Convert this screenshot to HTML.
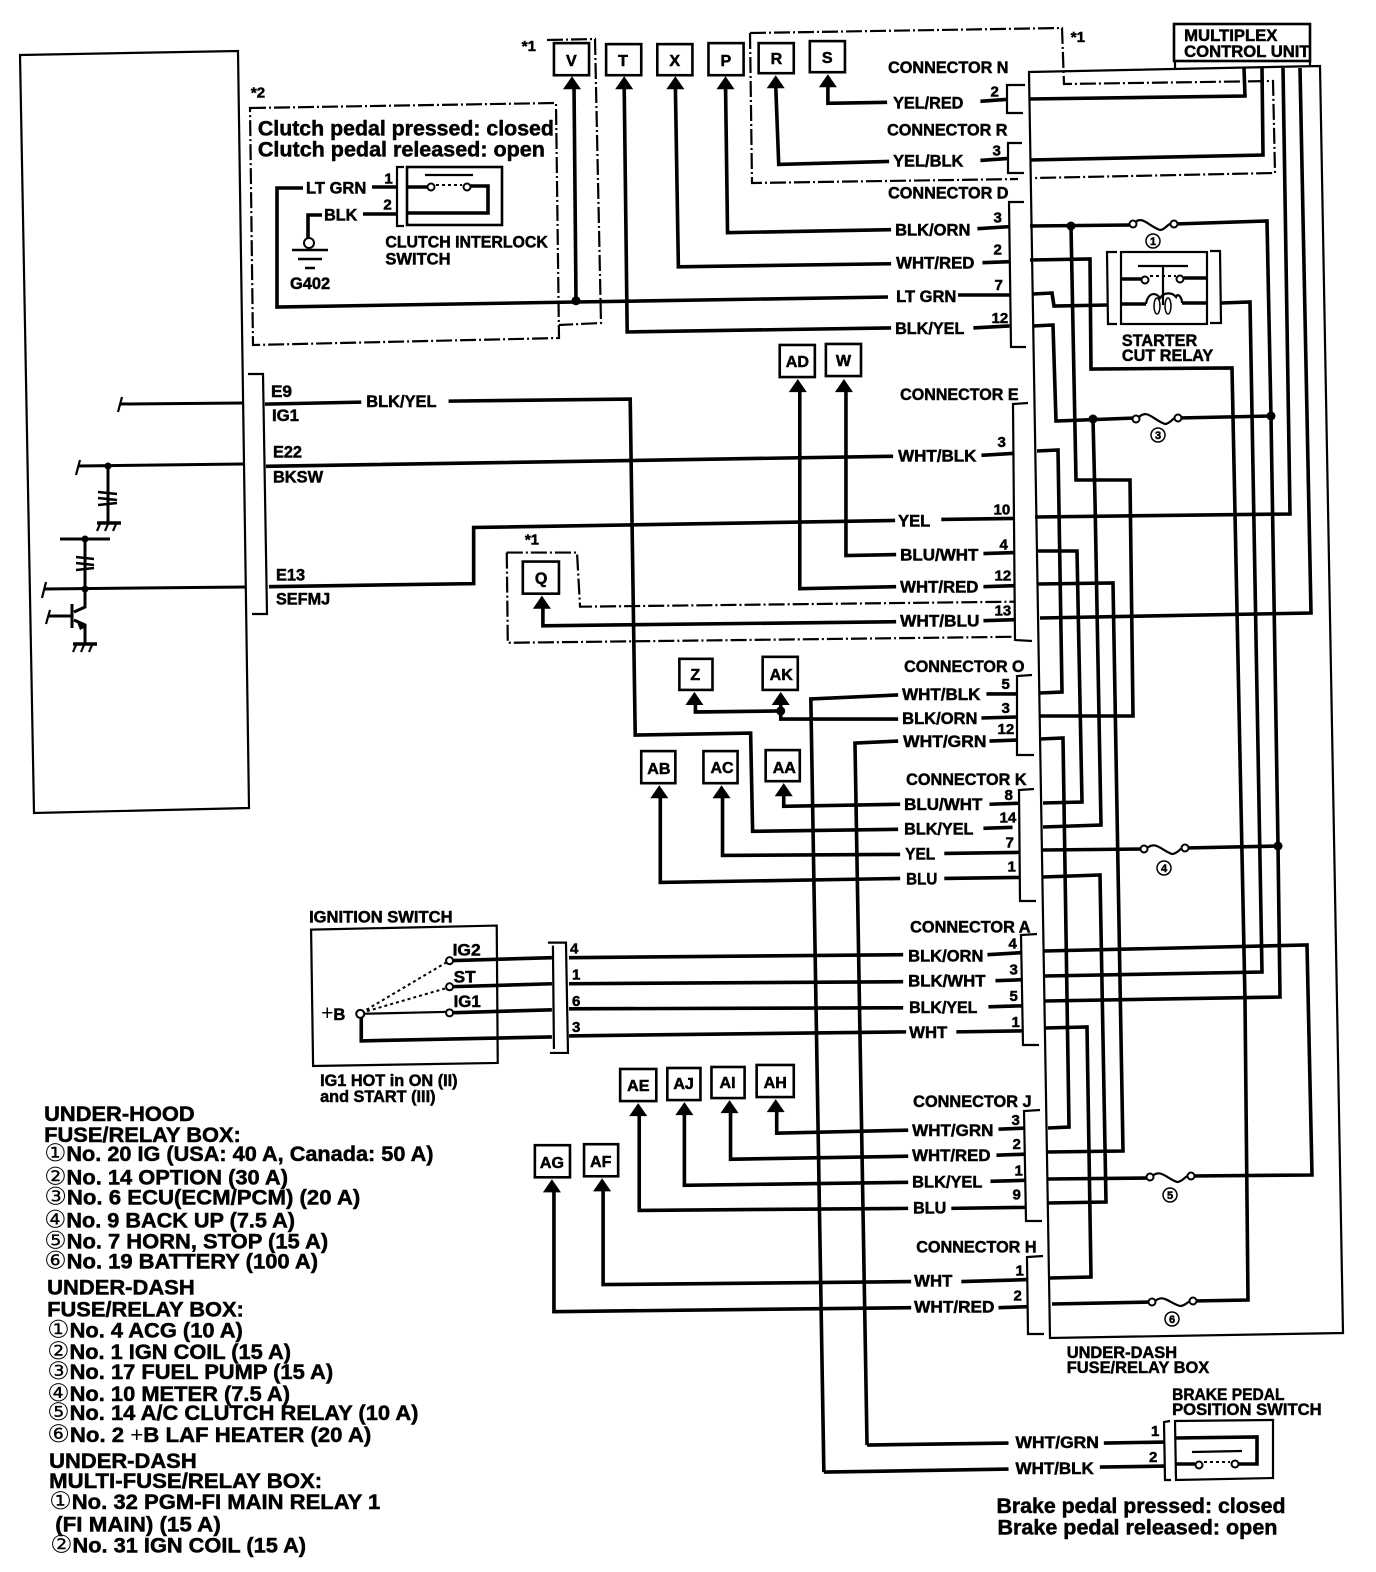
<!DOCTYPE html>
<html>
<head>
<meta charset="utf-8">
<style>
html,body{margin:0;padding:0;background:#fff}
svg{display:block}
text{font-family:"Liberation Sans","DejaVu Sans",sans-serif;font-weight:bold;fill:#000;stroke:#000;stroke-width:.5}
tspan.c{font-family:"DejaVu Sans",sans-serif;font-weight:normal;stroke:none;font-size:24px}
tspan.p{font-weight:normal;stroke:none}
.w{fill:none;stroke:#000;stroke-width:3.6;stroke-linejoin:miter}
.b{fill:none;stroke:#000;stroke-width:2.2}
.t{fill:none;stroke:#000;stroke-width:1.5}
.d{fill:none;stroke:#000;stroke-width:2.2;stroke-dasharray:16 3 2 3}
.dot{fill:none;stroke:#000;stroke-width:2;stroke-dasharray:3 3}
.o{fill:#fff;stroke:#000;stroke-width:2}
.tag{fill:#fff;stroke:#000;stroke-width:2.6}
.s16 text{font-size:16.5px}
.s15 text{font-size:15px}
.s21 text{font-size:21px}
.f{fill:none;stroke:#000;stroke-width:2.2}
</style>
</head>
<body>
<svg xmlns="http://www.w3.org/2000/svg" width="1376" height="1572" viewBox="0 0 1376 1572">
<rect width="1376" height="1572" fill="#fff"/>

<!-- ECU box -->
<path class="b" d="M20 55L238 51L249 808L34 813Z"/>
<path class="b" d="M248 374H263L267 614H252"/>

<!-- ECU internals -->
<path class="w" style="stroke-width:3" d="M120 404L243 403M78 466L243 464M108 466V522M60 539H110M85 539V607L74 612M44 589L246 587M48 616H72M72 604V628M74 620L85 625V645"/>
<path class="b" d="M122 397L118 412M80 460L76 475M46 582L42 598M50 610L46 624"/>
<path class="w" style="stroke-width:2.6" d="M98 492L117 494M98 498L117 500M98 505L117 503M76 557L94 559M76 563L94 565M76 570L94 568"/>
<path class="w" d="M97 523H121M73 644H97"/>
<path class="b" d="M100 524L97 531M108 524L105 531M116 524L113 531M76 645L73 652M84 645L81 652M92 645L89 652"/>
<circle cx="108" cy="466" r="3.5"/><circle cx="85" cy="539" r="3.5"/><circle cx="85" cy="589" r="3.5"/>
<path d="M77 622L86 627L80 630Z"/>

<!-- under-dash box -->
<path class="b" d="M1029 72L1320 66L1343 1333L1050 1338Z"/>
<!-- multiplex -->
<rect x="1174" y="24" width="136" height="37" fill="#fff" stroke="#000" stroke-width="2.6"/>
<path class="b" d="M1175 62V68M1310 60V66"/>

<!-- dashed (absolute) -->
<path class="d" d="M750 33L1062 28L1064 84L1273 81L1275 173L1034 178"/>
<path class="d" d="M750 33L752 183L1018 179"/>
<path class="d" d="M547 40L595 39L601 323L559 325"/>
<path class="d" d="M250 108L556 103L559 338L253 345Z"/>

<!-- connector brackets -->
<path class="b" d="M1025 85H1007V113H1023M1022 143H1008V173H1024M1024 202H1009L1011 347H1026M1028 403L1013 404L1015 640L1032 641M1032 675L1017 676V755H1034M1034 789L1019 790L1020 901H1036M1037 934L1021 935L1023 1045H1039M1040 1110L1024 1111L1026 1221H1042M1043 1256L1027 1257L1028 1334H1044"/>

<!-- wires inside box -->
<path class="w" d="M1029 99L1245 96L1244 68"/>
<path class="w" d="M1030 160L1263 155L1262 68"/>
<path class="w" d="M1283 68L1290 514L1035 517"/>
<path class="w" d="M1300 68L1311 613L1040 618"/>
<path class="w" d="M1030 226L1130 225M1175 224L1267 221L1271 417L1278 845L1280 997L1045 1001"/>
<path class="w" d="M1071 226L1076 480H1130L1133 716L1040 716"/>
<path class="w" d="M1030 260L1090 259L1091 369L1232 368L1245 1000L1248 1300L1193 1301"/>
<path class="w" d="M1033 294L1052 293L1054 306L1108 305M1221 303L1250 302L1262 972L1045 976"/>
<path class="w" d="M1033 326L1053 325L1056 421L1135 418M1178 418L1271 416"/>
<path class="w" d="M1093 419L1095 500L1101 825L1043 827"/>
<path class="w" d="M1037 451L1058 450L1062 692L1040 693"/>
<path class="w" d="M1038 551L1077 551L1082 802L1043 803"/>
<path class="w" d="M1038 584L1113 583L1123 1151L1048 1152"/>
<path class="w" d="M1040 739L1063 738L1069 1127L1048 1128"/>
<path class="w" d="M1043 850L1144 849M1185 848L1278 846"/>
<path class="w" d="M1043 877L1100 875L1106 1202L1048 1203"/>
<path class="w" d="M1044 951L1307 945L1312 1175L1190 1176M1150 1178L1048 1179"/>
<path class="w" d="M1045 1028L1087 1027L1091 1277L1050 1278"/>
<path class="w" d="M1052 1304L1152 1302"/>
<circle cx="1071" cy="226" r="4.5"/><circle cx="1093" cy="419" r="4.5"/><circle cx="1271" cy="416" r="4.5"/><circle cx="1278" cy="846" r="4.5"/>

<!-- fuses -->
<path class="f" d="M1133 224C1142 214 1148 226 1160 230C1166 230 1168 222 1173 224"/>
<circle class="o" cx="1133" cy="224" r="3.5"/><circle class="o" cx="1174" cy="224" r="3.5"/>
<path class="f" d="M1138 418C1147 408 1153 420 1165 424C1171 424 1173 416 1178 418"/>
<circle class="o" cx="1136" cy="419" r="3.5"/><circle class="o" cx="1178" cy="418" r="3.5"/>
<path class="f" d="M1146 849C1155 840 1161 850 1172 854C1178 854 1180 847 1185 848"/>
<circle class="o" cx="1144" cy="849" r="3.5"/><circle class="o" cx="1185" cy="848" r="3.5"/>
<path class="f" d="M1151 1177C1160 1168 1166 1178 1177 1182C1183 1182 1185 1175 1190 1176"/>
<circle class="o" cx="1150" cy="1177" r="3.5"/><circle class="o" cx="1191" cy="1176" r="3.5"/>
<path class="f" d="M1154 1302C1163 1293 1169 1303 1180 1306C1186 1306 1188 1300 1193 1301"/>
<circle class="o" cx="1152" cy="1302" r="3.5"/><circle class="o" cx="1193" cy="1301" r="3.5"/>
<circle class="t" cx="1153" cy="241" r="7"/><circle class="t" cx="1158" cy="435" r="7"/><circle class="t" cx="1164" cy="868" r="7"/><circle class="t" cx="1170" cy="1195" r="7"/><circle class="t" cx="1172" cy="1319" r="7"/>
<text x="1150" y="245" font-size="11">1</text><text x="1155" y="439" font-size="11">3</text><text x="1161" y="872" font-size="11">4</text><text x="1167" y="1199" font-size="11">5</text><text x="1169" y="1323" font-size="11">6</text>

<!-- starter cut relay -->
<path class="b" d="M1117 252H1107L1108 324H1117M1210 251H1220L1221 323H1210"/>
<rect x="1121" y="252" width="86" height="72" fill="none" stroke="#000" stroke-width="2.2"/>
<path class="b" d="M1138 266H1188M1163 266V305"/>
<path class="w" d="M1122 279H1142M1184 278H1206M1122 304H1146M1182 303H1206"/>
<path class="f" d="M1146 304C1148 292 1156 292 1160 298C1164 292 1172 292 1176 297C1178 292 1182 298 1182 303"/>
<ellipse class="t" cx="1157" cy="306" rx="3" ry="8"/><ellipse class="t" cx="1168" cy="306" rx="3" ry="8"/>
<circle class="o" cx="1145" cy="280" r="3.5"/><circle class="o" cx="1180" cy="279" r="3.5"/>
<path class="dot" d="M1150 276H1176"/>

<!-- clutch wires -->
<path class="w" d="M303 188H277V307L576 302L888 297M958 295L1010 295"/>
<path class="w" d="M322 215H308V238"/>
<path class="w" d="M372 187H398M363 214H398"/>
<circle class="o" cx="309" cy="243" r="5"/>
<path class="b" style="stroke-width:2.6" d="M292 250H328M298 259H322M305 268H315"/>
<path class="b" d="M404 167H397V226H404"/>
<rect x="407" y="167" width="95" height="58" fill="none" stroke="#000" stroke-width="2.6"/>
<path class="w" d="M407 187H427M470 186H488V213H407"/>
<path class="b" d="M425 175H473"/>
<path class="dot" d="M436 185H462"/>
<circle class="o" cx="431" cy="187" r="3.5"/><circle class="o" cx="467" cy="187" r="3.5"/>

<!-- brake switch -->
<path class="b" d="M1170 1421L1164 1422L1165 1480L1171 1480"/>
<path class="b" d="M1175 1421L1273 1420V1478L1176 1480Z"/>
<path class="w" d="M1175 1438L1257 1437V1464H1236M1176 1464H1195"/>
<path class="b" d="M1192 1452L1242 1451"/>
<path class="dot" d="M1204 1462H1230"/>
<circle class="o" cx="1199" cy="1465" r="3.5"/><circle class="o" cx="1235" cy="1464" r="3.5"/>

<!-- everything below was laid out in slightly reduced coordinates -->
<g transform="scale(1.0035 1.0028)">

<path class="d" d="M505 551H575L578 605L1012 600"/>
<path class="d" d="M505 551L506 641L1012 635"/>

<path class="w" d="M572 85L574 300"/>
<path class="w" d="M622 85L625 331L888 327M970 327L1006 325"/>
<path class="w" d="M673 85L676 266L888 263M979 262L1006 261"/>
<path class="w" d="M723 85L725 232L888 229M974 228L1006 226"/>
<path class="w" d="M773 85L776 164L886 161M977 160L1005 158"/>
<path class="w" d="M825 85V103L884 102M977 101L1004 99"/>
<circle cx="574" cy="300" r="4.5"/>

<!-- left wires -->
<path class="w" d="M264 403L360 401M447 400L628 398L633 733L748 731L750 829L895 827M980 826L1009 825"/>
<path class="w" d="M265 465L890 455M978 454L1011 452"/>
<path class="w" d="M268 585L472 582V526L892 519M938 518L1011 517"/>
<path class="w" d="M797 385L797 587L893 585M980 585L1011 584"/>
<path class="w" d="M843 385V554L893 553M980 552L1011 551"/>
<path class="w" d="M541 600V624L893 620M980 619L1011 618"/>
<path class="w" d="M693 698V710L778 709"/>
<path class="w" d="M778 698V717L895 717M978 716L1013 715"/>
<path class="w" d="M821 1468L808 697L895 693M983 692L1013 692"/>
<path class="w" d="M864 1441L852 741L895 739M986 739L1013 738"/>
<path class="w" d="M821 1468L1005 1465M1096 1463L1161 1462"/>
<path class="w" d="M864 1441L1005 1439M1100 1439L1161 1438"/>
<path class="w" d="M781 790V804L897 802M986 802L1016 801"/>
<path class="w" d="M658 792V880L897 876M941 876L1016 875"/>
<path class="w" d="M720 792V853L897 852M941 851L1016 850"/>
<circle cx="778" cy="709" r="4.5"/>

<!-- ignition -->
<path class="b" d="M310 927L495 923L496 1060L312 1063Z"/>
<path class="b" d="M546 940H564L566 1050H548M551 943L552 1046"/>
<path class="w" d="M448 958L550 955M567 955L900 952M984 952L1018 950"/>
<path class="w" d="M448 984L550 981M567 981L900 979M992 978L1018 977"/>
<path class="w" d="M448 1010L550 1007M567 1006L900 1005M985 1004L1019 1003"/>
<path class="b" d="M359 1011L448 1009"/>
<path class="w" d="M360 1011V1038L550 1034M567 1033L903 1029M953 1029L1020 1028"/>
<path class="dot" d="M360 1010L446 959M360 1010L446 985"/>
<circle class="o" cx="359" cy="1011" r="4"/>
<circle class="o" cx="448" cy="958" r="3.5"/><circle class="o" cx="448" cy="984" r="3.5"/><circle class="o" cx="448" cy="1010" r="3.5"/>

<!-- J/H wires -->
<path class="w" d="M774 1104V1130L905 1127M995 1126L1021 1125"/>
<path class="w" d="M728 1105V1156L905 1153M993 1152L1021 1151"/>
<path class="w" d="M682 1106V1182L905 1179M987 1178L1022 1177"/>
<path class="w" d="M637 1108V1207L905 1205M948 1205L1022 1204"/>
<path class="w" d="M601 1183V1281L908 1278M958 1278L1024 1276"/>
<path class="w" d="M552 1184V1308L908 1304M995 1304L1024 1303"/>

<!-- tags -->
<rect class="tag" x="552" y="43" width="35" height="32"/><rect class="tag" x="604" y="44" width="35" height="31"/><rect class="tag" x="655" y="44" width="35" height="31"/><rect class="tag" x="706" y="43" width="35" height="32"/><rect class="tag" x="756" y="43" width="35" height="30"/><rect class="tag" x="807" y="41" width="35" height="31"/>
<rect class="tag" x="777" y="344" width="35" height="32"/><rect class="tag" x="823" y="343" width="35" height="32"/>
<rect class="tag" x="521" y="560" width="36" height="32"/>
<rect class="tag" x="677" y="657" width="33" height="31"/><rect class="tag" x="760" y="655" width="35" height="33"/>
<rect class="tag" x="639" y="749" width="34" height="32"/><rect class="tag" x="701" y="749" width="34" height="32"/><rect class="tag" x="763" y="748" width="34" height="31"/>
<rect class="tag" x="618" y="1066" width="36" height="32"/><rect class="tag" x="665" y="1065" width="33" height="32"/><rect class="tag" x="709" y="1064" width="33" height="31"/><rect class="tag" x="754" y="1062" width="37" height="32"/>
<rect class="tag" x="533" y="1142" width="35" height="32"/><rect class="tag" x="582" y="1141" width="34" height="32"/>
<!-- arrowheads -->
<path d="M570 76l9 13h-18zM622 76l9 13h-18zM673 76l9 13h-18zM723 76l9 13h-18zM773 75l9 13h-18zM825 74l9 13h-18zM795 378l9 13h-18zM841 378l9 13h-18zM540 594l9 13h-18zM692 690l9 13h-18zM778 690l9 13h-18zM657 783l9 13h-18zM719 783l9 13h-18zM781 781l9 13h-18zM636 1100l9 13h-18zM682 1099l9 13h-18zM727 1097l9 13h-18zM773 1096l9 13h-18zM550 1176l9 13h-18zM600 1175l9 13h-18z"/>

<!-- tag labels -->
<text x="564" y="66" font-size="16">V</text><text x="616" y="66" font-size="16">T</text><text x="667" y="66" font-size="16">X</text><text x="718" y="66" font-size="16">P</text><text x="768" y="64" font-size="16">R</text><text x="819" y="63" font-size="16">S</text>
<text x="783" y="366" font-size="16">AD</text><text x="833" y="365" font-size="16">W</text>
<text x="533" y="582" font-size="16">Q</text>
<text x="688" y="678" font-size="16">Z</text><text x="767" y="678" font-size="16">AK</text>
<text x="645" y="772" font-size="16">AB</text><text x="708" y="771" font-size="16">AC</text><text x="770" y="771" font-size="16">AA</text>
<text x="625" y="1088" font-size="16">AE</text><text x="671" y="1086" font-size="16">AJ</text><text x="717" y="1085" font-size="16">AI</text><text x="761" y="1085" font-size="16">AH</text>
<text x="538" y="1165" font-size="16">AG</text><text x="588" y="1164" font-size="16">AF</text>

<!-- connector labels -->
<g class="s16">
<text x="885" y="73" textLength="120" lengthAdjust="spacingAndGlyphs">CONNECTOR N</text>
<text x="884" y="135" textLength="120" lengthAdjust="spacingAndGlyphs">CONNECTOR R</text>
<text x="885" y="198" textLength="120" lengthAdjust="spacingAndGlyphs">CONNECTOR D</text>
<text x="897" y="399" textLength="118" lengthAdjust="spacingAndGlyphs">CONNECTOR E</text>
<text x="901" y="670" textLength="120" lengthAdjust="spacingAndGlyphs">CONNECTOR O</text>
<text x="903" y="783" textLength="120" lengthAdjust="spacingAndGlyphs">CONNECTOR K</text>
<text x="907" y="930" textLength="120" lengthAdjust="spacingAndGlyphs">CONNECTOR A</text>
<text x="910" y="1104" textLength="118" lengthAdjust="spacingAndGlyphs">CONNECTOR J</text>
<text x="913" y="1249" textLength="120" lengthAdjust="spacingAndGlyphs">CONNECTOR H</text>

<text x="890" y="108" textLength="70" lengthAdjust="spacingAndGlyphs">YEL/RED</text>
<text x="890" y="166" textLength="70" lengthAdjust="spacingAndGlyphs">YEL/BLK</text>
<text x="892" y="235" textLength="75" lengthAdjust="spacingAndGlyphs">BLK/ORN</text>
<text x="893" y="268" textLength="78" lengthAdjust="spacingAndGlyphs">WHT/RED</text>
<text x="893" y="301" textLength="60" lengthAdjust="spacingAndGlyphs">LT GRN</text>
<text x="892" y="333" textLength="69" lengthAdjust="spacingAndGlyphs">BLK/YEL</text>
<text x="895" y="460" textLength="78" lengthAdjust="spacingAndGlyphs">WHT/BLK</text>
<text x="895" y="525" textLength="32" lengthAdjust="spacingAndGlyphs">YEL</text>
<text x="897" y="559" textLength="78" lengthAdjust="spacingAndGlyphs">BLU/WHT</text>
<text x="897" y="591" textLength="78" lengthAdjust="spacingAndGlyphs">WHT/RED</text>
<text x="897" y="625" textLength="79" lengthAdjust="spacingAndGlyphs">WHT/BLU</text>
<text x="899" y="698" textLength="78" lengthAdjust="spacingAndGlyphs">WHT/BLK</text>
<text x="899" y="722" textLength="75" lengthAdjust="spacingAndGlyphs">BLK/ORN</text>
<text x="900" y="745" textLength="83" lengthAdjust="spacingAndGlyphs">WHT/GRN</text>
<text x="901" y="808" textLength="78" lengthAdjust="spacingAndGlyphs">BLU/WHT</text>
<text x="901" y="832" textLength="69" lengthAdjust="spacingAndGlyphs">BLK/YEL</text>
<text x="902" y="857" textLength="30" lengthAdjust="spacingAndGlyphs">YEL</text>
<text x="903" y="882" textLength="31" lengthAdjust="spacingAndGlyphs">BLU</text>
<text x="905" y="959" textLength="75" lengthAdjust="spacingAndGlyphs">BLK/ORN</text>
<text x="905" y="984" textLength="77" lengthAdjust="spacingAndGlyphs">BLK/WHT</text>
<text x="906" y="1010" textLength="68" lengthAdjust="spacingAndGlyphs">BLK/YEL</text>
<text x="906" y="1035" textLength="38" lengthAdjust="spacingAndGlyphs">WHT</text>
<text x="909" y="1133" textLength="81" lengthAdjust="spacingAndGlyphs">WHT/GRN</text>
<text x="909" y="1158" textLength="78" lengthAdjust="spacingAndGlyphs">WHT/RED</text>
<text x="909" y="1184" textLength="70" lengthAdjust="spacingAndGlyphs">BLK/YEL</text>
<text x="910" y="1210" textLength="33" lengthAdjust="spacingAndGlyphs">BLU</text>
<text x="911" y="1283" textLength="38" lengthAdjust="spacingAndGlyphs">WHT</text>
<text x="911" y="1309" textLength="80" lengthAdjust="spacingAndGlyphs">WHT/RED</text>
<text x="1012" y="1444" textLength="83" lengthAdjust="spacingAndGlyphs">WHT/GRN</text>
<text x="1012" y="1470" textLength="78" lengthAdjust="spacingAndGlyphs">WHT/BLK</text>
<text x="365" y="406" textLength="70" lengthAdjust="spacingAndGlyphs">BLK/YEL</text>
<text x="305" y="193" textLength="60" lengthAdjust="spacingAndGlyphs">LT GRN</text>
<text x="323" y="220" textLength="33" lengthAdjust="spacingAndGlyphs">BLK</text>
<text x="289" y="288" textLength="40" lengthAdjust="spacingAndGlyphs">G402</text>
<text x="384" y="247" textLength="162" lengthAdjust="spacingAndGlyphs">CLUTCH INTERLOCK</text>
<text x="384" y="264" textLength="65" lengthAdjust="spacingAndGlyphs">SWITCH</text>
<text x="270" y="396" textLength="21" lengthAdjust="spacingAndGlyphs">E9</text>
<text x="271" y="420" textLength="27" lengthAdjust="spacingAndGlyphs">IG1</text>
<text x="272" y="456" textLength="29" lengthAdjust="spacingAndGlyphs">E22</text>
<text x="272" y="481" textLength="50" lengthAdjust="spacingAndGlyphs">BKSW</text>
<text x="275" y="579" textLength="29" lengthAdjust="spacingAndGlyphs">E13</text>
<text x="275" y="603" textLength="54" lengthAdjust="spacingAndGlyphs">SEFMJ</text>
<text x="308" y="920" textLength="143" lengthAdjust="spacingAndGlyphs">IGNITION SWITCH</text>
<text x="320" y="1017"><tspan class="p" font-size="21">+</tspan>B</text>
<text x="451" y="953" textLength="28" lengthAdjust="spacingAndGlyphs">IG2</text>
<text x="452" y="980" textLength="22" lengthAdjust="spacingAndGlyphs">ST</text>
<text x="452" y="1004" textLength="27" lengthAdjust="spacingAndGlyphs">IG1</text>
<text x="319" y="1083" textLength="137" lengthAdjust="spacingAndGlyphs">IG1 HOT in ON (II)</text>
<text x="319" y="1099" textLength="115" lengthAdjust="spacingAndGlyphs">and START (III)</text>
<text x="1063" y="1354" textLength="110" lengthAdjust="spacingAndGlyphs">UNDER-DASH</text>
<text x="1063" y="1369" textLength="142" lengthAdjust="spacingAndGlyphs">FUSE/RELAY BOX</text>
<text x="1168" y="1396" textLength="112" lengthAdjust="spacingAndGlyphs">BRAKE PEDAL</text>
<text x="1168" y="1411" textLength="149" lengthAdjust="spacingAndGlyphs">POSITION SWITCH</text>
<text x="1118" y="345" textLength="75" lengthAdjust="spacingAndGlyphs">STARTER</text>
<text x="1118" y="360" textLength="91" lengthAdjust="spacingAndGlyphs">CUT RELAY</text>
<text x="1180" y="41" textLength="93" lengthAdjust="spacingAndGlyphs">MULTIPLEX</text>
<text x="1180" y="57" textLength="125" lengthAdjust="spacingAndGlyphs">CONTROL UNIT</text>
</g>

<!-- numbers -->
<g class="s15">
<text x="987" y="96">2</text><text x="989" y="155">3</text>
<text x="990" y="222">3</text><text x="990" y="254">2</text><text x="991" y="289">7</text><text x="988" y="322">12</text>
<text x="994" y="446">3</text><text x="990" y="513">10</text><text x="996" y="548">4</text><text x="991" y="579">12</text><text x="991" y="614">13</text>
<text x="998" y="687">5</text><text x="998" y="711">3</text><text x="994" y="732">12</text>
<text x="1001" y="798">8</text><text x="996" y="820">14</text><text x="1002" y="845">7</text><text x="1004" y="869">1</text>
<text x="1005" y="946">4</text><text x="1006" y="972">3</text><text x="1006" y="998">5</text><text x="1008" y="1024">1</text>
<text x="1008" y="1122">3</text><text x="1009" y="1146">2</text><text x="1011" y="1172">1</text><text x="1009" y="1196">9</text>
<text x="1012" y="1272">1</text><text x="1010" y="1297">2</text>
<text x="1147" y="1432">1</text><text x="1145" y="1458">2</text>
<text x="568" y="951">4</text><text x="570" y="977">1</text><text x="570" y="1003">6</text><text x="570" y="1029">3</text>
<text x="383" y="183">1</text><text x="382" y="209">2</text>
<text x="250" y="97">*2</text><text x="520" y="51">*1</text><text x="1067" y="42">*1</text><text x="523" y="543">*1</text>
</g>

<!-- large notes -->
<g class="s21">
<text x="257" y="135" textLength="295" lengthAdjust="spacingAndGlyphs">Clutch pedal pressed: closed</text>
<text x="257" y="156" textLength="286" lengthAdjust="spacingAndGlyphs">Clutch pedal released: open</text>
<text x="993" y="1509" textLength="288" lengthAdjust="spacingAndGlyphs">Brake pedal pressed: closed</text>
<text x="994" y="1530" textLength="279" lengthAdjust="spacingAndGlyphs">Brake pedal released: open</text>

<text x="44" y="1118" textLength="150" lengthAdjust="spacingAndGlyphs">UNDER-HOOD</text>
<text x="44" y="1139" textLength="196" lengthAdjust="spacingAndGlyphs">FUSE/RELAY BOX:</text>
<text x="44" y="1158" textLength="388" lengthAdjust="spacingAndGlyphs"><tspan class="c">①</tspan>No. 20 IG (USA: 40 A, Canada: 50 A)</text>
<text x="44" y="1181" textLength="243" lengthAdjust="spacingAndGlyphs"><tspan class="c">②</tspan>No. 14 OPTION (30 A)</text>
<text x="44" y="1201" textLength="315" lengthAdjust="spacingAndGlyphs"><tspan class="c">③</tspan>No. 6 ECU(ECM/PCM) (20 A)</text>
<text x="44" y="1224" textLength="250" lengthAdjust="spacingAndGlyphs"><tspan class="c">④</tspan>No. 9 BACK UP (7.5 A)</text>
<text x="44" y="1245" textLength="283" lengthAdjust="spacingAndGlyphs"><tspan class="c">⑤</tspan>No. 7 HORN, STOP (15 A)</text>
<text x="44" y="1265" textLength="273" lengthAdjust="spacingAndGlyphs"><tspan class="c">⑥</tspan>No. 19 BATTERY (100 A)</text>
<text x="47" y="1291" textLength="147" lengthAdjust="spacingAndGlyphs">UNDER-DASH</text>
<text x="47" y="1313" textLength="196" lengthAdjust="spacingAndGlyphs">FUSE/RELAY BOX:</text>
<text x="47" y="1334" textLength="195" lengthAdjust="spacingAndGlyphs"><tspan class="c">①</tspan>No. 4 ACG (10 A)</text>
<text x="47" y="1355" textLength="243" lengthAdjust="spacingAndGlyphs"><tspan class="c">②</tspan>No. 1 IGN COIL (15 A)</text>
<text x="47" y="1375" textLength="285" lengthAdjust="spacingAndGlyphs"><tspan class="c">③</tspan>No. 17 FUEL PUMP (15 A)</text>
<text x="47" y="1397" textLength="242" lengthAdjust="spacingAndGlyphs"><tspan class="c">④</tspan>No. 10 METER (7.5 A)</text>
<text x="47" y="1416" textLength="370" lengthAdjust="spacingAndGlyphs"><tspan class="c">⑤</tspan>No. 14 A/C CLUTCH RELAY (10 A)</text>
<text x="47" y="1438" textLength="323" lengthAdjust="spacingAndGlyphs"><tspan class="c">⑥</tspan>No. 2 <tspan class="p">+</tspan>B LAF HEATER (20 A)</text>
<text x="49" y="1464" textLength="147" lengthAdjust="spacingAndGlyphs">UNDER-DASH</text>
<text x="49" y="1484" textLength="272" lengthAdjust="spacingAndGlyphs">MULTI-FUSE/RELAY BOX:</text>
<text x="49" y="1505" textLength="330" lengthAdjust="spacingAndGlyphs"><tspan class="c">①</tspan>No. 32 PGM-FI MAIN RELAY 1</text>
<text x="55" y="1527" textLength="165" lengthAdjust="spacingAndGlyphs">(FI MAIN) (15 A)</text>
<text x="50" y="1548" textLength="255" lengthAdjust="spacingAndGlyphs"><tspan class="c">②</tspan>No. 31 IGN COIL (15 A)</text>
</g>
</g>
</svg>
</body>
</html>
